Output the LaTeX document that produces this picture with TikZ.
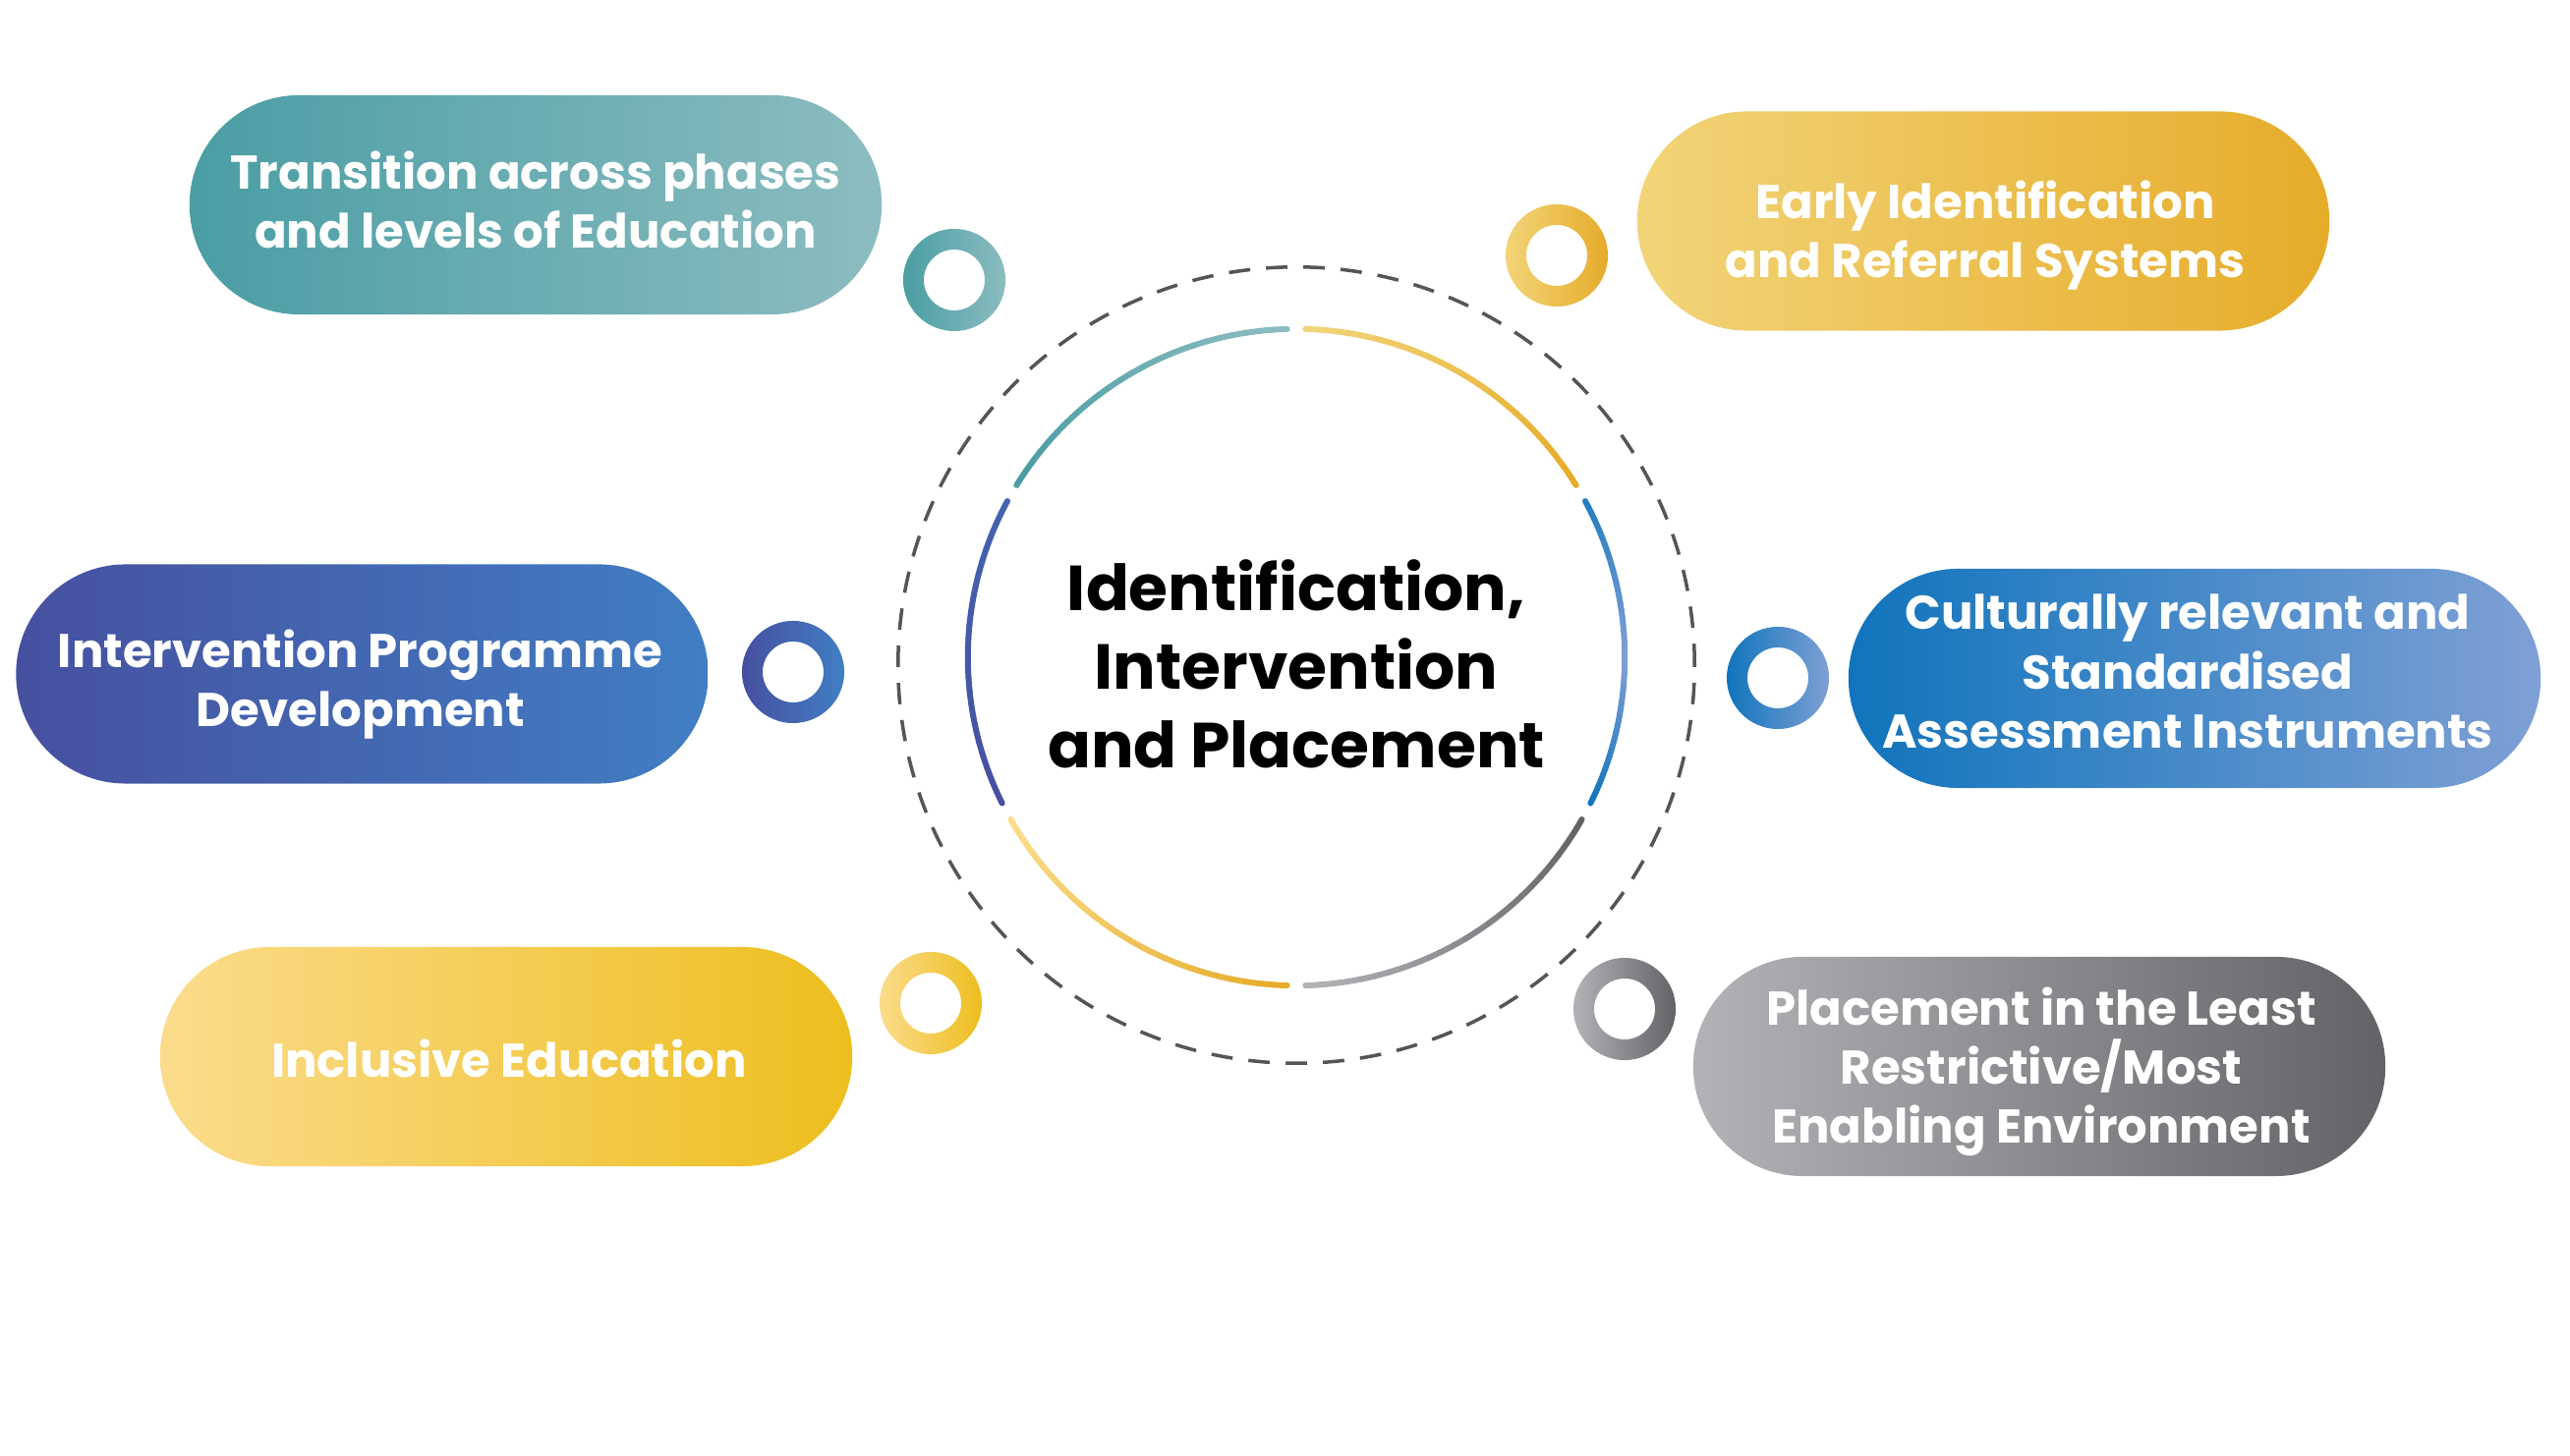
\documentclass[tikz,border=0pt]{standalone}
\usepackage{fontspec}
\setmainfont{Poppins}
\usetikzlibrary{calc}
\definecolor{tealA}{HTML}{4A9EA4}
\definecolor{tealB}{HTML}{8CBCC0}
\definecolor{goldA}{HTML}{F2D478}
\definecolor{goldB}{HTML}{E6AC2A}
\definecolor{indA}{HTML}{4650A0}
\definecolor{indB}{HTML}{417EC3}
\definecolor{bluA}{HTML}{1074BC}
\definecolor{bluB}{HTML}{7FA0D5}
\definecolor{yelA}{HTML}{FBDC8C}
\definecolor{yelB}{HTML}{EDBE1E}
\definecolor{gryA}{HTML}{B2B3B6}
\definecolor{gryB}{HTML}{626366}
\definecolor{dashc}{HTML}{555555}
\newcommand\pilltext{\fontsize{13.7}{17.1}\selectfont\bfseries}
\newcommand\hubtext{\fontsize{18.4}{22.8}\selectfont\bfseries}
\newcommand\garc[5]{% centre, start angle, end angle, start colour, end colour
  \foreach \k in {0,...,23}{%
    \pgfmathsetmacro\aa{#2+(#3-#2)*\k/24}%
    \pgfmathsetmacro\bb{#2+(#3-#2)*(\k+1)/24}%
    \pgfmathtruncatemacro\pp{100*\k/23}%
    \colorlet{gc}{#5!\pp!#4}%
    \draw[arcline, draw=gc] ($(#1)+(\aa:3.34cm)$) arc[start angle=\aa, end angle=\bb, radius=3.34cm];
  }}
\tikzset{
  pill/.style={rectangle, rounded corners=1.115cm, minimum width=7.04cm, minimum height=2.23cm,
    inner sep=0pt},
  pilllabel/.style={inner sep=0pt, text=white, font=\pilltext, align=center},
  ringouter/.style={even odd rule},
  arcline/.style={line width=1.7pt, line cap=round},
  dashring/.style={draw=dashc, line width=1pt, dash pattern=on 6.2pt off 4.6pt},
  hub/.style={circle, minimum size=6.68cm, inner sep=0pt, font=\hubtext, align=center, text=black}
}
\begin{document}
\begin{tikzpicture}[x=0.01cm,y=0.01cm]
\useasboundingbox (0,0) rectangle (2615,1482);
\fill[white] (0,0) rectangle (2615,1482);

% dashed outer circle
\coordinate (dc) at (1319,805);
\draw[dashring] (dc) circle[radius=4.05cm];

% hub
\coordinate (hc) at (1319,813);
\node[hub] (hub) at (1319,806) {Identification,\\Intervention\\and Placement};
\garc{hc}{31.6}{88.4}{goldB}{goldA}
\garc{hc}{91.6}{148.4}{tealB}{tealA}
\garc{hc}{151.6}{206.4}{indB!40!indA}{indA}
\garc{hc}{209.6}{268.4}{yelA}{goldB}
\garc{hc}{271.6}{330.4}{gryA}{gryB}
\garc{hc}{333.6}{360}{bluA}{bluB}
\garc{hc}{0}{28.4}{bluB}{bluA!80!bluB}

% pills
\node[pill, left color=tealA, right color=tealB] (p1) at (545,1273.5) {};
\node[pill, left color=goldA, right color=goldB] (p2) at (2018,1257) {};
\node[pill, left color=indA, right color=indB] (p3) at (368.5,796) {};
\node[pill, left color=bluA, right color=bluB] (p4) at (2233,791.5) {};
\node[pill, left color=yelA, right color=yelB] (p5) at (515,406.5) {};
\node[pill, left color=gryA, right color=gryB] (p6) at (2075,396.5) {};

\node[pilllabel] (t1) at ($(p1.center)+(0,5)$) {Transition across phases\\and levels of Education};
\node[pilllabel] (t2) at ($(p2.center)+(2,-15)$) {Early Identification\\and Referral Systems};
\node[pilllabel] (t3) at ($(p3.center)+(-2,-11)$) {Intervention Programme\\Development};
\node[pilllabel] (t4) at ($(p4.center)+(-7,7)$) {Culturally relevant and\\Standardised\\Assessment Instruments};
\node[pilllabel] (t5) at ($(p5.center)+(3,-2)$) {Inclusive Education};
\node[pilllabel] (t6) at ($(p6.center)+(2,-5)$) {Placement in the Least\\Restrictive/Most\\Enabling Environment};

% rings
\coordinate (r1) at (971,1197);
\coordinate (r2) at (1584,1222);
\coordinate (r3) at (807,798);
\coordinate (r4) at (1809,792);
\coordinate (r5) at (947,461);
\coordinate (r6) at (1653,455);
\shade[ringouter, left color=tealA, right color=tealB] (r1) circle[radius=0.52cm] (r1) circle[radius=0.31cm];
\shade[ringouter, left color=goldA, right color=goldB] (r2) circle[radius=0.52cm] (r2) circle[radius=0.31cm];
\shade[ringouter, left color=indA, right color=indB] (r3) circle[radius=0.52cm] (r3) circle[radius=0.31cm];
\shade[ringouter, left color=bluA, right color=bluB] (r4) circle[radius=0.52cm] (r4) circle[radius=0.31cm];
\shade[ringouter, left color=yelA, right color=yelB] (r5) circle[radius=0.52cm] (r5) circle[radius=0.31cm];
\shade[ringouter, left color=gryA, right color=gryB] (r6) circle[radius=0.52cm] (r6) circle[radius=0.31cm];
\end{tikzpicture}
\end{document}
